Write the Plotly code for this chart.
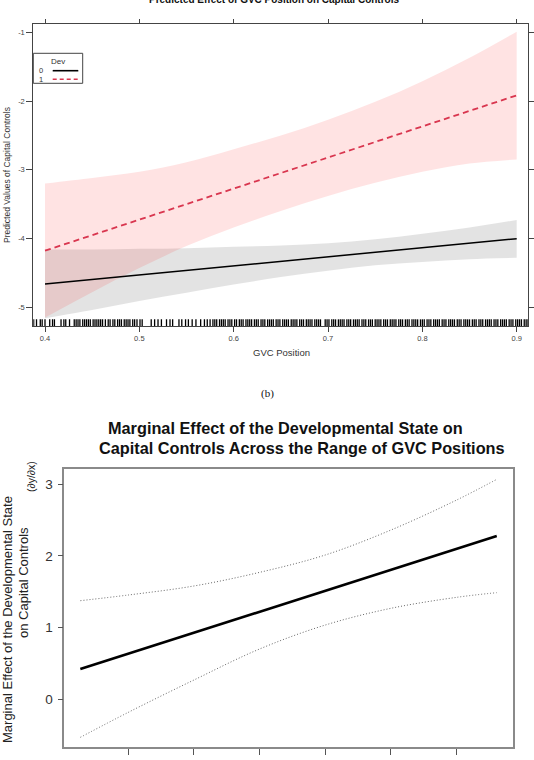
import plotly.graph_objects as go

W, H = 534, 760

# ---------------- data: panel (a) predicted values ----------------
gvc_grid = [0.40, 0.45, 0.50, 0.55, 0.60, 0.65, 0.70, 0.75, 0.80, 0.85, 0.90]
fit_dev0 = [-4.661, -4.595, -4.529, -4.463, -4.397, -4.331, -4.266, -4.200, -4.134, -4.068, -4.002]
lo_dev0 = [-5.16, -5.04, -4.91, -4.79, -4.67, -4.56, -4.47, -4.39, -4.34, -4.30, -4.28]
hi_dev0 = [-4.16, -4.16, -4.15, -4.14, -4.12, -4.10, -4.07, -4.01, -3.93, -3.84, -3.73]
fit_dev1 = [-4.177, -3.951, -3.725, -3.499, -3.273, -3.047, -2.821, -2.595, -2.369, -2.143, -1.917]
lo_dev1 = [-5.15, -4.78, -4.43, -4.11, -3.84, -3.60, -3.38, -3.19, -3.03, -2.91, -2.85]
hi_dev1 = [-3.20, -3.12, -3.03, -2.89, -2.70, -2.50, -2.27, -2.01, -1.71, -1.37, -0.99]

rug_x = [
    0.388, 0.391, 0.395, 0.397, 0.400, 0.405, 0.408, 0.410, 0.417, 0.420, 0.422, 0.426,
    0.431, 0.433, 0.435, 0.437, 0.440, 0.442, 0.444, 0.446, 0.448, 0.451, 0.453, 0.455, 0.457,
    0.459, 0.461, 0.464, 0.467, 0.469,
    0.472, 0.474, 0.477, 0.479, 0.481, 0.484, 0.486, 0.488, 0.490, 0.493, 0.495,
    0.4975, 0.5007, 0.503, 0.5126, 0.5162, 0.5198, 0.5234, 0.5288, 0.5325, 0.5353,
    0.542, 0.545, 0.549, 0.552, 0.556, 0.560, 0.565, 0.569, 0.572, 0.575,
    0.578, 0.580, 0.582, 0.585, 0.587, 0.589, 0.591, 0.594, 0.596, 0.598,
    0.601, 0.603, 0.606, 0.608, 0.610, 0.613, 0.615, 0.617, 0.619, 0.622, 0.624, 0.626,
    0.629, 0.631, 0.633, 0.636, 0.638, 0.640, 0.642, 0.645, 0.647, 0.649, 0.652, 0.654,
    0.656, 0.658, 0.661, 0.663, 0.665, 0.667, 0.670, 0.672, 0.674, 0.677, 0.679, 0.681,
    0.683, 0.686, 0.688, 0.690, 0.692, 0.697, 0.699, 0.701, 0.704, 0.706, 0.708, 0.711,
    0.713, 0.715, 0.717, 0.720, 0.722, 0.724, 0.727, 0.729, 0.731, 0.733, 0.736, 0.738,
    0.740, 0.743, 0.745, 0.747, 0.750, 0.752, 0.754, 0.756, 0.759, 0.761, 0.763, 0.766,
    0.768, 0.770, 0.772, 0.775, 0.777, 0.779, 0.782, 0.784, 0.786, 0.789, 0.791, 0.793,
    0.795, 0.798, 0.800, 0.802, 0.805, 0.807, 0.809, 0.812, 0.814, 0.816, 0.818, 0.821,
    0.823, 0.825, 0.828, 0.830, 0.832, 0.834, 0.837, 0.839, 0.841, 0.844, 0.846, 0.848,
    0.850, 0.853, 0.855, 0.857, 0.860, 0.862, 0.864, 0.867, 0.869, 0.871, 0.873, 0.876,
    0.878, 0.880, 0.883, 0.885, 0.887, 0.889, 0.892, 0.894, 0.896, 0.899, 0.901, 0.903,
    0.905, 0.908, 0.910, 0.912,
]

top_xticks = [0.4, 0.5, 0.6, 0.7, 0.8, 0.9]
top_xtick_text = ["0.4", "0.5", "0.6", "0.7", "0.8", "0.9"]
top_yticks = [-5, -4, -3, -2, -1]
top_ytick_text = ["-5", "-4", "-3", "-2", "-1"]

# ---------------- data: panel (b) marginal effect ----------------
me_x = [0.327, 0.40, 0.50, 0.60, 0.70, 0.80, 0.90, 0.961]
me_est = [0.422, 0.635, 0.928, 1.220, 1.512, 1.804, 2.097, 2.275]
me_hi = [1.374, 1.453, 1.579, 1.769, 2.011, 2.359, 2.777, 3.065]
me_lo = [-0.530, -0.182, 0.269, 0.701, 1.035, 1.268, 1.421, 1.486]

bot_xticks = [0.4, 0.5, 0.6, 0.7, 0.8, 0.9]
bot_xtick_text = ["0.4", "0.5", "0.6", "0.7", "0.8", "0.9"]
bot_yticks = [0, 1, 2, 3]
bot_ytick_text = ["0", "1", "2", "3"]


def px(x):
    return x / W


def py(y):
    return 1 - y / H


SANS = "Liberation Sans, Arial, sans-serif"
SERIF = "Liberation Serif, Times New Roman, serif"
RED = "#d9364f"

fig = go.Figure()

# grey band (Dev = 0)
fig.add_trace(go.Scatter(x=gvc_grid, y=lo_dev0, mode="lines", line=dict(width=0, shape="spline"),
                         showlegend=False, hoverinfo="skip", xaxis="x", yaxis="y"))
fig.add_trace(go.Scatter(x=gvc_grid, y=hi_dev0, mode="lines", line=dict(width=0, shape="spline"),
                         fill="tonexty", fillcolor="rgba(0,0,0,0.11)",
                         showlegend=False, hoverinfo="skip", xaxis="x", yaxis="y"))
# pink band (Dev = 1)
fig.add_trace(go.Scatter(x=gvc_grid, y=lo_dev1, mode="lines", line=dict(width=0, shape="spline"),
                         showlegend=False, hoverinfo="skip", xaxis="x", yaxis="y"))
fig.add_trace(go.Scatter(x=gvc_grid, y=hi_dev1, mode="lines", line=dict(width=0, shape="spline"),
                         fill="tonexty", fillcolor="rgba(255,0,0,0.11)",
                         showlegend=False, hoverinfo="skip", xaxis="x", yaxis="y"))
# fitted lines
fig.add_trace(go.Scatter(x=gvc_grid, y=fit_dev0, mode="lines", line=dict(color="black", width=1.5),
                         showlegend=False, xaxis="x", yaxis="y"))
fig.add_trace(go.Scatter(x=gvc_grid, y=fit_dev1, mode="lines",
                         line=dict(color=RED, width=1.8, dash="6px,4px"),
                         showlegend=False, xaxis="x", yaxis="y"))
# rug
fig.add_trace(go.Scatter(x=rug_x, y=[-5.236] * len(rug_x), mode="markers",
                         marker=dict(symbol="line-ns", size=6, line=dict(color="black", width=1.3)),
                         showlegend=False, hoverinfo="skip", xaxis="x", yaxis="y"))

# panel (b)
fig.add_trace(go.Scatter(x=me_x, y=me_hi, mode="lines",
                         line=dict(color="#666", width=1, dash="1px,2px", shape="spline"),
                         showlegend=False, xaxis="x2", yaxis="y2"))
fig.add_trace(go.Scatter(x=me_x, y=me_lo, mode="lines",
                         line=dict(color="#666", width=1, dash="1px,2px", shape="spline"),
                         showlegend=False, xaxis="x2", yaxis="y2"))
fig.add_trace(go.Scatter(x=me_x, y=me_est, mode="lines", line=dict(color="black", width=2.6),
                         showlegend=False, xaxis="x2", yaxis="y2"))

top_axis_common = dict(showgrid=False, zeroline=False, showline=True, linecolor="#444", linewidth=1,
                       ticks="outside", tickcolor="#444", tickwidth=1, mirror="ticks", automargin=False,
                       tickfont=dict(family=SANS, size=7.5, color="#444"))
bot_axis_common = dict(showgrid=False, zeroline=False, showline=True, linecolor="#8a8a8a", linewidth=1.5,
                       ticks="outside", tickcolor="#555", tickwidth=1, mirror=True, automargin=False,
                       tickfont=dict(family=SANS, size=13.5, color="#333"))

fig.update_layout(
    width=W, height=H,
    margin=dict(l=0, r=0, t=0, b=0, autoexpand=False),
    paper_bgcolor="white", plot_bgcolor="white",
    showlegend=False,
    xaxis=dict(domain=[px(33.3), px(528.3)], range=[0.3876, 0.9123], anchor="y",
               tickvals=top_xticks, ticktext=top_xtick_text, ticklen=4.5, **top_axis_common),
    yaxis=dict(domain=[py(326), py(24)], range=[-5.272, -0.879], anchor="x",
               tickvals=top_yticks, ticktext=top_ytick_text, ticklen=6, **top_axis_common),
    xaxis2=dict(domain=[px(64.3), px(512.7)], range=[0.3026, 0.9853], anchor="y2",
                tickvals=bot_xticks, ticktext=bot_xtick_text, ticklen=6, ticklabelstandoff=3,
                **bot_axis_common),
    yaxis2=dict(domain=[py(747.3), py(469.3)], range=[-0.669, 3.205], anchor="x2",
                tickvals=bot_yticks, ticktext=bot_ytick_text, ticklen=5, ticklabelstandoff=2,
                **bot_axis_common),
)

# legend box for panel (a)
shapes = [
    dict(type="rect", xref="paper", yref="paper", x0=px(33.3), x1=px(82.7), y0=py(83.3), y1=py(53.3),
         line=dict(color="#444", width=1), fillcolor="white", layer="above"),
    dict(type="line", xref="paper", yref="paper", x0=px(52.7), x1=px(78.3), y0=py(70.7), y1=py(70.7),
         line=dict(color="black", width=1.6), layer="above"),
    dict(type="line", xref="paper", yref="paper", x0=px(52.7), x1=px(78.3), y0=py(79.3), y1=py(79.3),
         line=dict(color=RED, width=1.6, dash="4px,3px"), layer="above"),
]
fig.update_layout(shapes=shapes)

ann = []


def add_text(text, x, y, size, family=SANS, color="#222", bold=False, angle=0, xanchor="center"):
    t = f"<b>{text}</b>" if bold else text
    ann.append(dict(text=t, x=px(x), y=py(y), xref="paper", yref="paper", showarrow=False,
                    xanchor=xanchor, yanchor="middle", textangle=angle,
                    font=dict(family=family, size=size, color=color)))


add_text("Predicted Effect of GVC Position on Capital Controls", 274, -1, 10, bold=True, color="#111")
add_text("Predicted Values of Capital Controls", 7, 175, 8.5, color="#333", angle=-90)
add_text("GVC Position", 281, 352, 9.5, color="#333")
add_text("Dev", 58.3, 61.5, 8, color="#333")
add_text("0", 40.7, 70.2, 7.5, color="#333")
add_text("1", 40.7, 79.6, 7.5, color="#333")
add_text("(b)", 267, 393, 11, family=SERIF, color="#111")
add_text("Marginal Effect of the Developmental State on", 285.8, 427.5, 16.3, bold=True, color="#111")
add_text("Capital Controls Across the Range of GVC Positions", 302, 447.5, 16.3, bold=True, color="#111")
add_text("Marginal Effect of the Developmental State", 7, 620, 13, color="#222", angle=-90)
add_text("on Capital Controls", 23, 583, 13, color="#222", angle=-90)
add_text("(∂y/∂x)", 31, 477, 10.5, color="#222", angle=-90)

fig.update_layout(annotations=ann)

fig.write_html("out.html")
